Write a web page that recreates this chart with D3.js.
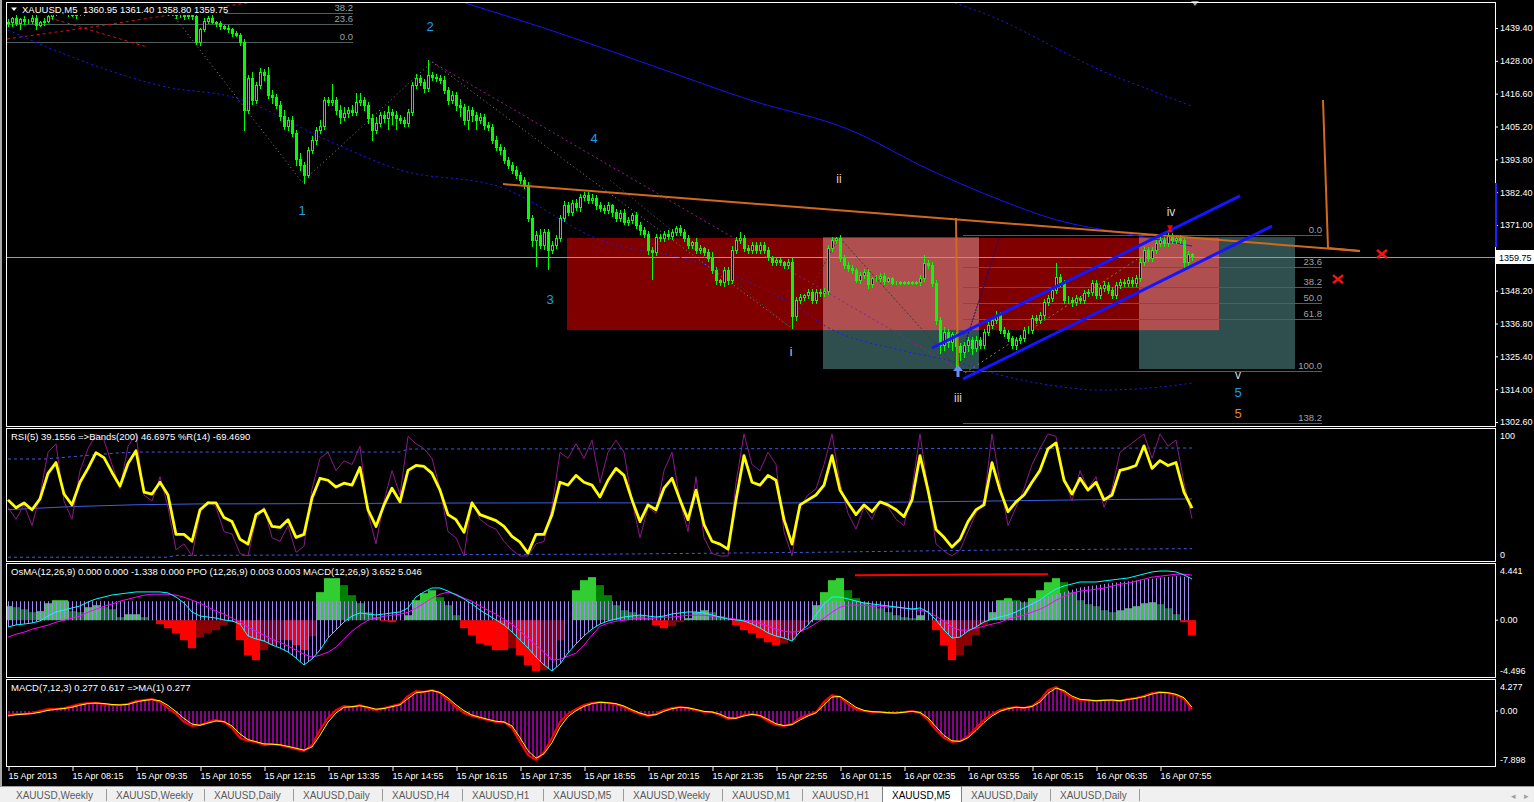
<!DOCTYPE html>
<html><head><meta charset="utf-8">
<script src="https://cdn.jsdelivr.net/npm/d3@7"></script>
<style>
html,body{margin:0;padding:0;background:#000;overflow:hidden}
svg{display:block}
text{font-family:"Liberation Sans",Arial,sans-serif}
</style></head><body>
<svg id="c" width="1534" height="802"></svg>
<script>
// ---------------- DATA ----------------
const closes=[
1441.5,1442.8,1441.0,1442.5,1441.8,1442.0,1443.0,1440.5,1441.5,1442.0,
1443.5,1444.5,1445.5,1446.0,1445.0,1444.5,1444.0,1444.5,1445.0,1446.0,
1447.0,1448.0,1447.5,1449.0,1450.0,1449.0,1448.0,1449.5,1450.0,1451.0,
1450.0,1449.0,1448.0,1447.5,1448.0,1447.0,1446.5,1447.0,1446.0,1445.5,
1445.0,1444.5,1443.8,1444.0,1443.5,1444.0,1443.5,1434.5,1439.0,1442.0,
1443.0,1441.5,1441.0,1440.0,1439.5,1439.0,1437.5,1437.0,1434.5,1411.0,
1422.0,1414.5,1419.5,1424.0,1423.0,1416.0,1415.5,1412.5,1409.0,1405.5,
1407.5,1403.0,1394.0,1392.0,1388.5,1397.0,1400.5,1404.0,1405.5,1414.4,
1413.7,1414.4,1411.0,1408.5,1410.0,1411.0,1410.2,1413.7,1414.4,1412.6,
1408.0,1404.0,1406.4,1409.2,1408.2,1410.2,1409.2,1408.2,1407.5,1406.4,
1410.2,1419.6,1422.0,1420.6,1418.6,1423.0,1422.4,1422.0,1421.3,1417.9,
1414.4,1416.1,1412.6,1412.0,1407.5,1410.9,1409.2,1407.5,1408.5,1405.7,
1405.0,1400.5,1398.1,1397.0,1393.6,1391.8,1390.1,1388.4,1386.6,1384.9,
1373.4,1365.8,1367.5,1364.0,1368.5,1362.3,1364.0,1366.5,1373.4,1377.9,
1375.5,1378.6,1377.2,1380.7,1381.4,1379.7,1380.4,1377.9,1376.9,1376.2,
1377.9,1375.5,1373.4,1375.1,1372.0,1372.7,1374.5,1371.0,1369.3,1367.9,
1362.3,1361.6,1366.8,1366.5,1367.9,1367.2,1368.5,1370.0,1368.5,1366.5,
1364.0,1365.1,1362.3,1363.0,1361.6,1359.5,1355.4,1351.9,1351.2,1355.4,
1351.9,1362.3,1365.8,1366.5,1363.0,1362.3,1364.0,1362.3,1364.0,1362.3,
1359.8,1358.1,1358.8,1358.1,1357.1,1358.1,1339.4,1345.0,1346.0,1346.7,
1347.7,1345.0,1347.7,1347.4,1348.1,1363.0,1365.8,1366.5,1359.5,1357.1,
1356.1,1355.4,1351.9,1353.6,1354.7,1350.5,1352.6,1352.6,1353.3,1351.6,
1352.6,1350.9,1350.9,1351.2,1350.9,1351.2,1350.9,1351.2,1352.6,1357.8,
1357.1,1350.9,1338.0,1329.5,1334.0,1330.5,1333.0,1329.0,1327.0,1329.3,
1331.1,1328.3,1331.1,1329.3,1333.8,1336.3,1338.0,1339.7,1334.5,1333.4,
1331.8,1329.3,1331.1,1331.8,1334.5,1334.5,1338.7,1338.0,1339.7,1344.3,
1345.7,1348.4,1352.9,1350.9,1345.0,1345.0,1344.3,1345.7,1345.0,1347.4,
1347.7,1350.9,1346.7,1349.1,1350.2,1348.4,1346.7,1350.2,1351.2,1350.9,
1351.9,1350.9,1352.6,1358.1,1362.3,1359.5,1362.3,1364.7,1365.8,1364.7,
1367.2,1365.8,1366.5,1365.8,1358.1,1360.95,1359.75];
const firstOpen=1441.0;
const hiWick=[
1,0.5,1.5,0.5,1,0.5,1,1.5,0.5,1,
1,0.5,1,0.5,1,0.5,1,0.5,1,1,
1,0.5,1,1,0.5,1,1,0.5,1,0.5,
1,0.5,1,1,0.5,1,0.5,1,0.5,1,
0.5,1,0.5,1,0.5,1,1,1,0.5,1,
0.5,1,0.5,1,0.5,1,0.5,1,0.5,1,
1,2,1,1.5,1,3,2,1,1.5,2,
1,1.5,1,2,1,1,1.5,1,2,1,
1,5.5,1,1.5,2,1,1.5,3,2.5,1,
1,1.5,2,1,1.5,2,1,1.5,1,1,
1,1,1.5,1,1,5.3,1,1,1,1.5,
1,1.5,1,2,1,1.5,1,1,1.5,1,
1,1,1.5,1,1,1,1,1.5,1,1,
1,1,1.5,2,1,1,1.5,1,1,1.5,
1,1,1.5,1,1,1,1.5,1,1,1,
1,0.5,1,1,1.5,1,0.5,1,1,1,
1,1,1,1,1,1.5,1,0.5,1,1,
1,0.5,1.5,1,0.5,1,2,1,0.5,1,
1,1.5,1,2,1,1,1,1,1,1,
1,0.5,1,1,0.5,1,1.5,1,1,0.5,
1,1,1,1,1,1,1,0.3,1,1,
1,1,0.5,1,1,1,0.5,1,1,1,
0.5,0.5,0.5,0.5,0.5,0.5,0.5,0.5,1,2.8,
1,1,1,1,1.5,1,1,1,1,1,
1,1,1.5,1,1,1,1,1.5,1,1,
1,0.5,1,1,1,1.5,1,1,1,1,
1,1,5,1,1,1.5,1,1,0.5,1,
1,1,1,1,1.5,1,1,1,1,1,
1,1,1,1.5,1,1,1,1,1.5,1,
1.8,1,1,1,1,1,0.45];
const loWick=[
1,1.5,0.5,2,1,0.5,1,1.5,0.5,1,
0.5,1,0.5,1,0.5,1,0.5,1,0.5,1,
1,1,0.5,1,1,0.5,1,1,0.5,1,
1,0.5,1,1,0.5,1,1,0.5,1,1,
1,0.5,1,0.5,1,0.5,1,0.5,1,0.5,
1,0.5,1,1,0.5,1,1,0.5,1,7,
1,1.5,1,1,1.5,1,2,1,1.5,1,
1.5,1,2,2,3,1,1,1.5,1,1,
1,1,1.5,2,1,1.5,1,1,1,1.5,
1.5,3.5,1,1,1.5,4,3,4,1,1,
1,1,1,1,1.5,1,1,1,1,1,
1.5,1,1.5,3,1.5,3,2,3,1,1.5,
1,1,1,1.5,1,1,1,1,1,1,
1,2,9,1,1.5,6.5,1,1,1,1,
1,1,1,1.5,1,1,1,1.5,1,1,
1,1.5,1,1,0.5,1,1,1,1.5,1,
1.5,9.5,1,1,1,1,1,1,1,1,
1,1,1,1,1,1,1,1.5,1,1.5,
1.5,1,1,1,1,1,1,1,1,1,
1,1,1,1,1,1,4,1.5,1,1,
1,1,1,1,1,1,1,1,1,1,
1,1,0.7,1,1,1.5,1,1,1,1,
0.5,0.5,0.5,0.5,0.5,0.5,0.5,0.5,1,1,
1,1,1.5,3,2,2,3,8,3,2,
2,2,1,1,1,1,1,1,1,1,
1,1,1.5,1,1,1,1,1,1,1,
1,1,1,1,1,1,1.5,1,1,1,
1,1,1,1,1,1,1,1,1,1,
1,1,1,1,1,1,1,1,1,1,
1,1,1,1,1.7,1,0.95];
const priceTicks=[1439.40,1428.00,1416.60,1405.20,1393.80,1382.40,1371.00,1348.20,1336.80,1325.40,1314.00,1302.60];
const lastPrice=1359.75;
const timeTickBars=[0,16,32,48,64,80,96,112,128,144,160,176,192,208,224,240,256,272,288];
const timeLabels=["15 Apr 2013","15 Apr 08:15","15 Apr 09:35","15 Apr 10:55","15 Apr 12:15","15 Apr 13:35","15 Apr 14:55","15 Apr 16:15","15 Apr 17:35","15 Apr 18:55","15 Apr 20:15","15 Apr 21:35","15 Apr 22:55","16 Apr 01:15","16 Apr 02:35","16 Apr 03:55","16 Apr 05:15","16 Apr 06:35","16 Apr 07:55"];

// moving average / bands on the price chart: [bar, price]
const maLine=[[114.25,1448.1],[135.5,1438.7],[160.5,1426.6],[185.5,1414.4],[210.5,1404.0],[230.5,1390.1],[248,1379.7],[262.25,1372.7],[278.75,1368.2],[296,1363.7]];
const bbUpper=[[236.75,1448.1],[248,1442.2],[260.5,1433.5],[273,1424.8],[285.5,1417.9],[296,1412.2]];
const bbLower=[[0,1438.7],[14.75,1430.0],[39.75,1418.9],[56.25,1415.4],[81.25,1399.5],[98,1390.1],[123,1384.2],[148,1365.8],[173,1357.8],[195.5,1343.9],[206.25,1334.5],[223,1327.6],[238,1323.1],[248,1318.9],[260.5,1315.4],[273,1313.7],[285.5,1314.4],[296,1316.1]];

// drawn objects: [bar, price]
const orangeTrend=[[123.75,1385.2],[338,1362.0]];
const orangeV1=[[237.0,1373.4],[237.5,1320.0]];
const orangeV2=[[328.75,1414.4],[330,1363.0],[338,1362.0]];
const channelUp=[[231,1328.3],[308,1381.1]];
const channelLo=[[238.75,1317.5],[316,1370.6]];
const fibLevels=[0,23.6,38.2,50,61.8,100,138.2];
const fibRightRange=[238.75,328.5,1367.5,1320.4];
const fibLeftLevels=[0,23.6,38.2];
const fibLeftRange=[-0.5,86.25,1434.5,1461.2];
const boxRed=[139.75,302.75,1366.5,1334.5];
const boxSlate=[[203.75,242.75,1366.8,1321.0],[282.75,321.75,1366.8,1321.0]];
const waveGray=[[41.25,1443.9],[73.5,1385.9],[106,1427.6],[195.5,1335.6]];
const wavePurple=[[106,1427.6],[237.25,1321.3]];
const waveDark=[[195.5,1335.6],[207.75,1366.8],[237.25,1321.3]];
const waveDark2=[[150.5,1386.6],[195.5,1335.6]];
const fanNavy=[[237.25,1321.3],[248,1367.1]];
const fanGray=[[239.25,1319.6],[282.25,1359.1]];
const redDash1=[[-0.25,1435.6],[21.25,1439.8],[61.25,1448.4]];
const redDash2=[[10.5,1442.9],[34.75,1432.8]];
const waveLabels=[
 {t:"1",b:73.5,p:1376.2,k:"num"},{t:"2",b:105.5,p:1440.1,k:"num"},{t:"3",b:135.5,p:1345.0,k:"num"},
 {t:"4",b:146.5,p:1400.9,k:"num"},{t:"5",b:307.5,p:1312.7,k:"num"},{t:"5",b:307.5,p:1305.4,k:"org"},
 {t:"i",b:195.75,p:1326.9,k:"rom"},{t:"ii",b:207.75,p:1387.0,k:"rom"},{t:"iii",b:237.5,p:1310.9,k:"rom"},
 {t:"iv",b:290.75,p:1375.5,k:"rom"},{t:"v",b:307.5,p:1318.9,k:"rom"}];
const crosses=[[343.5,1360.9],[332.5,1352.2]];
const blueArrow=[237.5,1321.0];
const redMark=[290.5,1369.5];
const axisMarkRange=[1385.6,1363.4];

// indicator series, one value every 2 bars
const rsi5=[
46.0,39.5,43.5,37.9,46.8,67.7,76.6,50.8,41.9,60.5,
71.8,84.7,80.6,68.5,57.3,75.8,86.3,52.4,50.8,60.5,
50.0,17.7,17.7,12.1,37.9,43.5,43.5,31.5,28.2,13.7,
9.7,33.9,37.9,24.2,23.4,29.8,15.3,17.7,47.6,63.7,
62.1,56.5,59.7,58.1,72.6,37.9,24.2,41.9,55.6,44.4,
70.2,74.2,73.4,67.7,54.0,33.9,29.8,19.4,43.5,33.9,
31.5,29.0,24.2,16.1,11.3,2.4,17.7,17.7,33.9,60.5,
58.1,66.1,60.5,58.1,48.4,62.1,71.8,66.1,46.0,28.2,
41.9,37.9,55.6,63.7,46.0,29.8,54.0,25.8,12.1,9.7,
5.6,46.0,82.3,60.5,58.1,66.1,62.1,29.8,9.7,41.9,
46.0,50.0,58.1,82.3,54.0,43.5,33.9,41.9,36.3,44.4,
41.9,37.9,32.3,46.0,82.3,54.0,21.8,15.3,7.3,13.7,
28.2,37.9,41.9,76.6,54.0,36.3,44.4,50.0,60.5,70.2,
87.9,92.7,62.1,50.8,63.7,54.0,60.5,46.0,50.0,70.2,
71.8,74.2,90.3,71.8,78.2,74.2,76.6,52.4,39.16];
const wpr14=[
-60,-70,-58,-75,-50,-15,-8,-55,-70,-30,
-12,0,-5,-25,-45,-10,0,-50,-55,-35,
-60,-95,-90,-100,-65,-55,-60,-80,-82,-98,
-100,-70,-60,-85,-88,-75,-97,-92,-45,-20,
-15,-30,-22,-25,-10,-65,-90,-55,-30,-50,
-2,-8,-12,-20,-45,-80,-85,-100,-55,-70,
-75,-78,-88,-95,-100,-100,-90,-88,-60,-15,
-20,-8,-20,-5,-40,-15,-5,-15,-55,-85,
-60,-65,-30,-15,-55,-80,-35,-85,-98,-100,
-100,-40,0,-25,-30,-15,-25,-80,-100,-60,
-50,-45,-25,0,-40,-65,-78,-60,-70,-55,
-60,-70,-75,-45,0,-45,-90,-96,-100,-95,
-80,-65,-55,0,-40,-75,-60,-45,-25,-12,
0,-2,-35,-55,-30,-45,-35,-60,-45,-15,
-10,-5,0,-20,0,-10,-5,-40,-69.47];
const bandMid=[[0,38],[16,40.5],[32,42],[48,42.7],[64,42.8],[80,43],[96,43.2],[112,43.4],[128,43.5],[144,43.6],[160,43.5],[176,43.3],[192,43.4],[208,43.8],[224,44.2],[240,44.8],[256,45.5],[272,46.2],[288,46.6],[296,46.7]];
const bandUp=[[0,79.5],[9,79.5],[27,84.4],[33,85.2],[98,85.2],[100,87.7],[200,88],[296,88.5]];
const bandLo=[[0,-1],[40,-1],[42,0.5],[150,1.5],[200,3],[250,5],[296,6]];

const osma=[
1.24,1.15,0.97,0.71,0.8,1.5,1.77,1.77,0.8,0.71,
1.15,1.33,1.15,0.97,0.27,0.53,0.53,0.27,0.02,-0.35,
-0.71,-1.15,-1.77,-2.48,-1.5,-1.15,-0.88,-0.44,-0.18,-1.77,
-3.1,-3.54,-2.65,-2.21,-1.77,-1.77,-2.21,-2.65,-1.42,2.48,
3.72,3.72,3.1,2.21,1.5,0.71,0.27,-0.09,-0.18,-0.02,
0.44,1.77,2.39,2.65,2.04,1.33,0.44,-0.71,-1.33,-2.04,
-2.21,-2.65,-2.65,-2.48,-3.1,-3.98,-4.5,-4.42,-3.54,-1.77,
-0.02,2.65,3.54,3.81,3.1,2.21,1.33,0.88,0.71,0.44,
0.18,-0.44,-0.71,-0.53,-0.18,0.18,0.71,0.88,0.71,0.35,
0.02,-0.44,-0.88,-1.15,-1.59,-1.95,-2.21,-2.04,-1.77,-1.06,
-0.18,1.33,2.48,3.54,3.72,2.65,1.95,1.59,1.33,1.06,
0.71,0.44,0.27,0.18,0.44,0.02,-0.88,-2.21,-3.54,-3.1,
-2.21,-1.33,-0.44,0.71,1.77,1.95,1.77,1.59,1.95,2.65,
3.36,3.72,3.36,2.48,1.77,1.42,1.24,0.88,0.71,0.88,
1.06,1.24,1.5,1.59,1.42,1.06,0.53,-0.18,-1.34];
const macdMain=[
-0.6,-0.42,-0.34,-0.25,-0.07,0.37,0.73,0.9,1.08,1.26,
1.61,1.88,2.05,2.23,2.32,2.41,2.5,2.5,2.5,2.5,
2.41,2.05,1.52,0.73,0.37,0.28,0.19,0.02,-0.07,-0.34,
-1.4,-1.66,-1.84,-2.19,-2.46,-2.81,-3.35,-3.96,-3.43,-2.64,
-1.58,-0.87,-0.16,0.37,0.64,0.55,0.46,0.55,0.64,0.73,
1.08,2.05,2.5,2.85,2.85,2.58,2.23,1.88,1.43,0.9,
0.46,0.02,-0.42,-1.04,-1.75,-2.46,-3.26,-3.96,-4.5,-3.88,
-2.9,-2.11,-1.4,-0.78,-0.34,-0.07,0.1,0.28,0.37,0.46,
0.37,0.28,0.37,0.55,0.64,0.73,0.73,0.64,0.46,0.28,
0.1,0.02,-0.07,-0.34,-0.69,-1.13,-1.4,-1.58,-1.84,-1.04,
-0.42,0.46,1.43,2.05,2.05,1.88,1.7,1.52,1.43,1.35,
1.26,1.17,1.08,0.99,1.08,0.73,0.02,-0.87,-1.58,-1.5,
-0.96,-0.6,-0.16,0.1,0.28,0.46,0.73,1.08,1.43,1.79,
2.32,2.76,3.03,3.2,3.38,3.38,3.38,3.47,3.56,3.65,
3.73,3.91,4.09,4.27,4.35,4.35,4.27,4.0,3.65];
const macdSignal=[
-1.5,-1.24,-1.06,-0.8,-0.62,-0.44,-0.18,0,0.18,0.35,
0.71,0.97,1.24,1.42,1.68,1.86,2.04,2.21,2.3,2.3,
2.3,2.21,2.04,1.77,1.5,1.15,0.8,0.53,0.18,-0.18,
-0.62,-0.97,-1.33,-1.68,-1.95,-2.3,-2.65,-3.01,-3.27,-3.1,
-2.83,-2.39,-1.68,-0.97,-0.44,0,0.18,0.35,0.44,0.53,
0.71,1.06,1.5,1.95,2.3,2.48,2.3,1.95,1.68,1.24,
0.88,0.53,0.09,-0.35,-0.97,-1.59,-2.21,-2.83,-3.54,-3.45,
-3.19,-2.92,-2.21,-1.33,-0.53,-0.27,-0.09,0,0.09,0.18,
0.18,0.18,0.27,0.27,0.35,0.44,0.44,0.44,0.35,0.27,
0.18,0.09,0,-0.09,-0.27,-0.53,-0.8,-0.97,-1.06,-0.97,
-0.71,-0.27,0.18,0.71,1.15,1.33,1.33,1.33,1.24,1.24,
1.15,1.15,1.06,0.97,0.88,0.71,0.35,-0.09,-0.62,-0.88,
-0.88,-0.71,-0.53,-0.35,-0.18,0.09,0.27,0.44,0.71,0.97,
1.33,1.77,2.12,2.39,2.57,2.65,2.74,2.83,3.01,3.19,
3.27,3.45,3.63,3.81,3.89,3.98,4.07,4.07,3.98];
// upper edge of the lavender PPO hatching: [bar, value]
const ppoTop=[[0,1.68],[256,1.68],[262,2.3],[268,2.9],[276,3.3],[284,3.6],[292,3.9],[296,3.8]];
const osmaTrend=[[211.75,3.98],[260,4.07]];

const macd7=[
-0.65,-0.48,-0.48,-0.32,0,0.32,0.32,0.48,0.81,1.13,
1.29,1.29,1.13,0.97,0.97,1.13,1.61,1.77,1.94,1.45,
0.48,-0.48,-1.77,-2.42,-2.26,-1.77,-1.45,-1.77,-2.74,-4.35,
-4.84,-5.0,-5.48,-5.32,-5.48,-5.81,-6.13,-6.45,-5.48,-3.06,
-1.13,0.16,0.81,0.65,0.97,0.48,0.16,0.48,0.81,1.13,
2.42,3.23,3.06,3.39,2.9,1.77,0.65,-0.32,-0.81,-1.13,
-1.45,-1.77,-1.77,-2.74,-5.0,-7.1,-7.9,-6.61,-4.35,-1.77,
-0.48,0.32,0.97,1.29,1.45,1.29,1.13,0.65,0,-0.48,
-0.81,-0.48,0.16,0.48,0.65,0.48,0.16,-0.16,-0.16,-0.65,
-1.29,-1.13,-0.65,-0.48,-0.81,-1.61,-2.26,-2.42,-2.1,-1.13,
-0.65,-0.16,1.45,2.58,2.26,1.13,0.32,0,-0.16,-0.16,
-0.32,-0.32,-0.16,0,-0.32,-1.45,-3.06,-4.35,-5.0,-4.84,
-4.03,-2.74,-1.45,-0.48,0.16,0.48,0.65,0.48,0.81,1.77,
3.39,3.87,3.06,2.1,1.77,1.77,1.61,1.77,1.77,1.61,
1.94,2.1,2.42,2.9,3.06,2.9,2.58,1.94,0.277];
const macd7Signal=[
-0.8,-0.6,-0.5,-0.42,-0.2,0.1,0.28,0.4,0.6,0.95,
1.2,1.28,1.2,1.05,0.98,1.08,1.45,1.7,1.85,1.65,
0.9,-0.1,-1.2,-2.1,-2.3,-1.95,-1.6,-1.7,-2.4,-3.7,
-4.6,-4.95,-5.3,-5.35,-5.45,-5.7,-6.0,-6.3,-5.8,-3.9,
-1.8,-0.3,0.6,0.7,0.85,0.62,0.3,0.4,0.7,1.0,
2.0,2.95,3.1,3.3,3.0,2.1,1.0,0.05,-0.65,-1.0,
-1.35,-1.65,-1.77,-2.4,-4.3,-6.4,-7.6,-6.9,-5.1,-2.6,
-0.9,0.05,0.75,1.2,1.4,1.33,1.18,0.8,0.2,-0.33,
-0.7,-0.6,-0.05,0.38,0.6,0.52,0.25,-0.06,-0.16,-0.5,
-1.1,-1.18,-0.8,-0.55,-0.72,-1.35,-2.05,-2.35,-2.2,-1.45,
-0.8,-0.3,1.0,2.25,2.35,1.5,0.6,0.1,-0.1,-0.16,
-0.27,-0.32,-0.2,-0.05,-0.22,-1.1,-2.55,-3.95,-4.8,-4.9,
-4.3,-3.15,-1.85,-0.8,-0.05,0.37,0.6,0.53,0.72,1.45,
2.85,3.7,3.3,2.4,1.9,1.77,1.66,1.72,1.77,1.66,
1.85,2.05,2.32,2.75,3.0,2.95,2.7,2.15,0.617];

const tabNames=["XAUUSD,Weekly","XAUUSD,Weekly","XAUUSD,Daily","XAUUSD,Daily","XAUUSD,H4","XAUUSD,H1","XAUUSD,M5","XAUUSD,Weekly","XAUUSD,M1","XAUUSD,H1","XAUUSD,M5","XAUUSD,Daily","XAUUSD,Daily"];
const activeTab=10;

// ---------------- LAYOUT ----------------
const step=2;
const L=6,R=1495;
const P={main:[2,426],rsi:[428,561],osma:[563,677],macd:[679,766]};
const svg=d3.select("#c");
const defs=svg.append("defs");
svg.append("rect").attr("width",1534).attr("height",802).attr("fill","#000");

const x=d3.scaleLinear().domain([0,296]).range([8,1192]);
const yP=d3.scaleLinear().domain([1302.6,1439.4]).range([422,28]);
const yR=d3.scaleLinear().domain([0,100]).range([556,434]);
const yO=d3.scaleLinear().domain([-4.496,4.441]).range([671,570]);
const yM=d3.scaleLinear().domain([-7.898,4.277]).range([760,684.5]);
const sx=(d,j)=>x(j*step);

Object.entries(P).forEach(([k,[t,b]])=>{
  defs.append("clipPath").attr("id","clip-"+k).append("rect")
   .attr("x",L+1).attr("y",t+1).attr("width",R-L-1).attr("height",b-t-1);
});
function pat(id,col,w){
  const p=defs.append("pattern").attr("id",id).attr("patternUnits","userSpaceOnUse").attr("width",4).attr("height",20);
  p.append("rect").attr("x",0).attr("y",0).attr("width",w).attr("height",20).attr("fill",col);
}
pat("lav","#a08cf0",1);
pat("pur","#8b008b",2);

const gMain=svg.append("g").attr("clip-path","url(#clip-main)");
const pl=d3.line().x(d=>x(d[0])).y(d=>yP(d[1]));

// rectangles (background objects)
function rectXY(b0,b1,p0,p1){return {x:x(b0),y:yP(p0),w:x(b1)-x(b0),h:yP(p1)-yP(p0)};}
{
 const r=rectXY(...boxRed);
 gMain.append("rect").attr("x",r.x).attr("y",r.y).attr("width",r.w).attr("height",r.h).attr("fill","#800000");
 boxSlate.forEach(s=>{
   const q=rectXY(...s);
   gMain.append("rect").attr("x",q.x).attr("y",q.y).attr("width",q.w).attr("height",q.h).attr("fill","#2f4f4f");
   const ix0=Math.max(r.x,q.x),ix1=Math.min(r.x+r.w,q.x+q.w),iy0=Math.max(r.y,q.y),iy1=Math.min(r.y+r.h,q.y+q.h);
   if(ix1>ix0&&iy1>iy0) gMain.append("rect").attr("x",ix0).attr("y",iy0).attr("width",ix1-ix0).attr("height",iy1-iy0).attr("fill","#af4f4f");
 });
}
// fibonacci levels
function fib(levels,rng){
  const [b0,b1,p0,p100]=rng;
  levels.forEach(l=>{
    const p=p0+(p100-p0)*l/100, yy=Math.round(yP(p))+0.5;
    gMain.append("line").attr("x1",x(b0)).attr("x2",x(b1)).attr("y1",yy).attr("y2",yy).attr("stroke","#4f5f5f").attr("stroke-width",1);
    gMain.append("text").attr("x",x(b1)).attr("y",yy-2.5).attr("text-anchor","end").attr("font-size",9.5).attr("fill","#9aa6a6").text(l.toFixed(1));
  });
}
fib(fibLevels,fibRightRange);
fib(fibLeftLevels,fibLeftRange);

// current price line
gMain.append("line").attr("x1",L).attr("x2",R).attr("y1",Math.round(yP(lastPrice))+0.5).attr("y2",Math.round(yP(lastPrice))+0.5).attr("stroke","#9a9a9a");

// moving average and bands
gMain.append("path").attr("d",d3.line().curve(d3.curveMonotoneX).x(d=>x(d[0])).y(d=>yP(d[1]))(maLine)).attr("fill","none").attr("stroke","#1414ff").attr("stroke-width",1);
[bbUpper,bbLower].forEach(s=>gMain.append("path").attr("d",d3.line().curve(d3.curveMonotoneX).x(d=>x(d[0])).y(d=>yP(d[1]))(s)).attr("fill","none").attr("stroke","#1a1aff").attr("stroke-width",1).attr("stroke-dasharray","2,3"));

// wave / fan dotted lines
gMain.append("path").attr("d",pl(waveGray)).attr("fill","none").attr("stroke","#8a8a8a").attr("stroke-dasharray","1,3");
gMain.append("path").attr("d",pl(wavePurple)).attr("fill","none").attr("stroke","#9a1a9a").attr("stroke-dasharray","2,3");
gMain.append("path").attr("d",pl(waveDark)).attr("fill","none").attr("stroke","#3a3a3a").attr("stroke-dasharray","2,2");
gMain.append("path").attr("d",pl(waveDark2)).attr("fill","none").attr("stroke","#3a3a3a").attr("stroke-dasharray","2,2");
gMain.append("path").attr("d",pl(fanNavy)).attr("fill","none").attr("stroke","#101080").attr("stroke-dasharray","2,1");
gMain.append("path").attr("d",pl(fanGray)).attr("fill","none").attr("stroke","#7a7a7a").attr("stroke-dasharray","2,3");
[redDash1,redDash2].forEach(s=>gMain.append("path").attr("d",pl(s)).attr("fill","none").attr("stroke","#e01010").attr("stroke-dasharray","3,3"));

// candles: bull = hollow, bear = filled
const bars=closes.map((c,i)=>{const o=i?closes[i-1]:firstOpen;const top=Math.max(o,c),bot=Math.min(o,c);return {i,o,c,top,bot,h:top+hiWick[i],l:bot-loWick[i]};});
const gC=gMain.append("g");
bars.forEach(d=>{
  const cx=Math.round(x(d.i));
  gC.append("line").attr("x1",cx+0.5).attr("x2",cx+0.5).attr("y1",Math.round(yP(d.h))).attr("y2",Math.round(yP(d.l))+1).attr("stroke","#00ff00");
  const yt=Math.round(yP(d.top)),yb=Math.round(yP(d.bot));
  gC.append("rect").attr("x",cx-0.5).attr("y",yt+0.5).attr("width",2).attr("height",Math.max(0,yb-yt))
    .attr("fill",d.c<d.o?"#00ff00":"#000").attr("stroke","#00ff00").attr("stroke-width",1);
});

// foreground lines
gMain.append("path").attr("d",pl(orangeTrend)).attr("fill","none").attr("stroke","#d2691e").attr("stroke-width",2);
gMain.append("path").attr("d",pl(orangeV1)).attr("fill","none").attr("stroke","#d2691e").attr("stroke-width",2);
gMain.append("path").attr("d",pl(orangeV2)).attr("fill","none").attr("stroke","#d2691e").attr("stroke-width",2);
[channelUp,channelLo].forEach(s=>gMain.append("path").attr("d",pl(s)).attr("fill","none").attr("stroke","#1515ff").attr("stroke-width",3));

// labels
waveLabels.forEach(w=>{
  gMain.append("text").attr("x",x(w.b)).attr("y",yP(w.p)).attr("dy","0.35em").attr("text-anchor","middle")
   .attr("font-size",w.k==="rom"?12:13).attr("fill",w.k==="num"?"#1e9fe6":(w.k==="org"?"#e8832a":"#d8d8d8")).text(w.t);
});
crosses.forEach(c=>{
  const cx=x(c[0]),cy=yP(c[1]);
  gMain.append("path").attr("d",`M${cx-5},${cy-4}L${cx+5},${cy+4}M${cx-5},${cy+4}L${cx+5},${cy-4}`).attr("stroke","#ff1010").attr("stroke-width",2.5);
});
{
 const ax=x(blueArrow[0]),ay=yP(blueArrow[1]);
 gMain.append("path").attr("d",`M${ax},${ay-4}L${ax+5},${ay+2}L${ax+1.5},${ay+2}L${ax+1.5},${ay+8}L${ax-1.5},${ay+8}L${ax-1.5},${ay+2}L${ax-5},${ay+2}Z`).attr("fill","#6a8cff");
 const rx=x(redMark[0]),ry=yP(redMark[1]);
 gMain.append("path").attr("d",`M${rx-3},${ry-4}L${rx+3},${ry-4}L${rx+1},${ry}L${rx+3},${ry+3}L${rx-3},${ry+3}L${rx-1},${ry}Z`).attr("fill","#ff0000");
}
// header
svg.append("rect").attr("x",7).attr("y",2).attr("width",218).attr("height",13).attr("fill","#000");
svg.append("path").attr("d","M11,7.5L17,7.5L14,11Z").attr("fill","#fff");
svg.append("text").attr("x",22).attr("y",12.5).attr("font-size",9.5).attr("fill","#fff").text("XAUUSD,M5");
svg.append("text").attr("x",83).attr("y",12.5).attr("font-size",9.5).attr("fill","#fff").text("1360.95 1361.40 1358.80 1359.75");
svg.append("path").attr("d","M1191,1L1199,1L1195,6Z").attr("fill","#a0a0a0");

// ---------- RSI panel ----------
const gR=svg.append("g").attr("clip-path","url(#clip-rsi)");
const bl=d3.line().x(d=>x(d[0])).y(d=>yR(d[1]));
gR.append("path").attr("d",bl(bandMid)).attr("fill","none").attr("stroke","#3a5fe8");
[bandUp,bandLo].forEach(s=>gR.append("path").attr("d",bl(s)).attr("fill","none").attr("stroke","#3a5fe8").attr("stroke-dasharray","3,3"));
gR.append("path").attr("d",d3.line().x(sx).y(d=>yR(100+d))(wpr14)).attr("fill","none").attr("stroke","#8b1a8b").attr("stroke-width",1);
gR.append("path").attr("d",d3.line().x(sx).y(d=>yR(d))(rsi5)).attr("fill","none").attr("stroke","#ffff00").attr("stroke-width",2.8).attr("stroke-linejoin","round");
svg.append("text").attr("x",11).attr("y",440).attr("font-size",9.5).attr("fill","#fff").text("RSI(5) 39.1556  =>Bands(200) 46.6975  %R(14) -69.4690");

// ---------- OsMA panel ----------
const gO=svg.append("g").attr("clip-path","url(#clip-osma)");
osma.forEach((v,j)=>{
  const prev=j?osma[j-1]:0;
  const col=v>=0?(v>=prev?"#32cd32":"#008000"):(v<=prev?"#ff0000":"#8b0000");
  const y0=yO(0),y1=yO(v);
  gO.append("rect").attr("x",x(j*step)-4).attr("y",Math.min(y0,y1)).attr("width",8).attr("height",Math.abs(y1-y0)).attr("fill",col);
});
{
 const topAt=d3.scaleLinear().domain(ppoTop.map(d=>d[0])).range(ppoTop.map(d=>d[1]));
 gO.append("path").attr("d",d3.area().x(sx).y0((d,j)=>yO(topAt(j*step))).y1(d=>yO(Math.min(0,d)))(macdMain)).attr("fill","url(#lav)");
}
gO.append("path").attr("d",d3.line().x(sx).y(d=>yO(d))(macdSignal)).attr("fill","none").attr("stroke","#ff00ff");
gO.append("path").attr("d",d3.line().x(sx).y(d=>yO(d))(macdMain)).attr("fill","none").attr("stroke","#00ffff");
gO.append("path").attr("d",d3.line().x(d=>x(d[0])).y(d=>yO(d[1]))(osmaTrend)).attr("stroke","#ff0000").attr("stroke-width",2);
svg.append("text").attr("x",11).attr("y",575).attr("font-size",9.5).attr("fill","#fff").text("OsMA(12,26,9) 0.000 0.000 -1.338 0.000  PPO (12,26,9) 0.003 0.003  MACD(12,26,9) 3.652 5.046");

// ---------- MACD(7,12,3) panel ----------
const gM=svg.append("g").attr("clip-path","url(#clip-macd)");
gM.append("path").attr("d",d3.area().x(sx).y0(yM(0)).y1(d=>yM(d))(macd7)).attr("fill","url(#pur)");
gM.append("path").attr("d",d3.line().x(sx).y(d=>yM(d))(macd7)).attr("fill","none").attr("stroke","#ff0000").attr("stroke-width",2);
gM.append("path").attr("d",d3.line().x(sx).y(d=>yM(d))(macd7Signal)).attr("fill","none").attr("stroke","#ffff00").attr("stroke-width",1);
svg.append("text").attr("x",11).attr("y",691).attr("font-size",9.5).attr("fill","#fff").text("MACD(7,12,3) 0.277 0.617  =>MA(1) 0.277");

// ---------- panel frames ----------
Object.values(P).forEach(([t,b])=>{
  svg.append("rect").attr("x",L+0.5).attr("y",t+0.5).attr("width",R-L).attr("height",b-t).attr("fill","none").attr("stroke","#fff").attr("stroke-width",1);
});
svg.append("rect").attr("x",0).attr("y",0).attr("width",2).attr("height",786).attr("fill","#a8a8a8");

// ---------- axes ----------
function styleAxis(g){g.select(".domain").remove();g.selectAll("line").attr("stroke","#fff");g.selectAll("text").attr("fill","#fff").attr("font-size",9).attr("font-family","Liberation Sans, Arial, sans-serif");}
svg.append("g").attr("transform",`translate(${R},0)`).call(d3.axisRight(yP).tickValues(priceTicks).tickSize(3).tickPadding(2).tickFormat(d3.format(".2f"))).call(styleAxis);
function sideAxis(scale,vals,labels,top,bottom,ticks){
  const g=svg.append("g").attr("transform",`translate(${R},0)`).call(d3.axisRight(scale).tickValues(vals).tickSize(3).tickPadding(2).tickFormat((d,k)=>labels[k])).call(styleAxis);
  g.selectAll(".tick").attr("transform",d=>`translate(0,${Math.max(top+8,Math.min(bottom-6,scale(d)))})`);
  g.selectAll(".tick line").attr("opacity",(d)=>ticks.includes(d)?1:0);
}
sideAxis(yR,[0,100],["0","100"],P.rsi[0],P.rsi[1],[]);
sideAxis(yO,[-4.496,0,4.441],["-4.496","0.00","4.441"],P.osma[0],P.osma[1],[0]);
sideAxis(yM,[-7.898,0,4.277],["-7.898","0.00","4.277"],P.macd[0],P.macd[1],[0]);
// current price box
{
 const yy=Math.round(yP(lastPrice));
 svg.append("rect").attr("x",1496).attr("y",yy-7).attr("width",38).attr("height",14).attr("fill","#fff");
 svg.append("text").attr("x",1499).attr("y",yy+3.5).attr("font-size",9).attr("fill","#000").text(lastPrice.toFixed(2));
 svg.append("line").attr("x1",R+1).attr("x2",R+1).attr("y1",yP(axisMarkRange[0])).attr("y2",yP(axisMarkRange[1])).attr("stroke","#2020ff").attr("stroke-width",2);
}
// time axis
const gT=svg.append("g").attr("transform","translate(0,767)").call(d3.axisBottom(x).tickValues(timeTickBars).tickSize(4).tickPadding(2).tickFormat((d,k)=>timeLabels[k])).call(styleAxis);
gT.selectAll(".tick text").attr("text-anchor","start").attr("x",0);
gT.selectAll(".tick line").attr("transform","translate(0.5,0)");

// ---------- tabs ----------
const tabX=[6,106,204,293,382,462,543,623,722,802,882,961,1050,1139];
svg.append("rect").attr("x",0).attr("y",786).attr("width",1534).attr("height",16).attr("fill","#f0f0f0");
svg.append("line").attr("x1",0).attr("x2",1534).attr("y1",786.5).attr("y2",786.5).attr("stroke","#a0a0a0");
tabNames.forEach((n,k)=>{
  const x0=tabX[k],x1=tabX[k+1];
  if(k===activeTab){
    svg.append("rect").attr("x",x0+0.5).attr("y",786.5).attr("width",x1-x0).attr("height",16).attr("fill","#fff").attr("stroke","#808080");
  } else if(k+1!==activeTab){
    svg.append("line").attr("x1",x1+0.5).attr("x2",x1+0.5).attr("y1",789).attr("y2",801).attr("stroke","#9a9a9a");
  }
  svg.append("text").attr("x",x0+10).attr("y",798.5).attr("font-size",10).attr("fill",k===activeTab?"#000":"#5a5a5a").text(n);
});
svg.append("text").attr("x",1511).attr("y",799).attr("font-size",9).attr("fill","#a0a0a0").text("◂");
svg.append("text").attr("x",1524).attr("y",799).attr("font-size",9).attr("fill","#a0a0a0").text("▸");
</script></body></html>
